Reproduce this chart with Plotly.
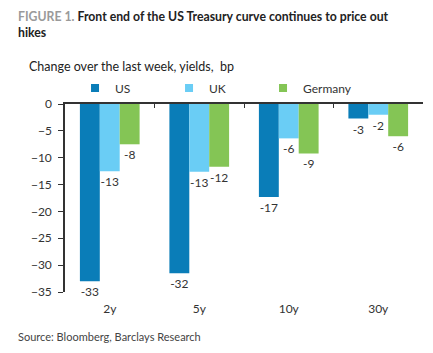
import plotly.graph_objects as go

categories = ["2y", "5y", "10y", "30y"]
us = [-33.0, -31.5, -17.3, -2.7]
uk = [-12.5, -12.6, -6.4, -2.0]
germany = [-7.5, -11.7, -9.2, -6.0]
us_labels = ["-33", "-32", "-17", "-3"]
uk_labels = ["-13", "-13", "-6", "-2"]
de_labels = ["-8", "-12", "-9", "-6"]
y_ticks = [0, -5, -10, -15, -20, -25, -30, -35]

FONT = "Lato"
TXT = "#333333"

series = [
    ("US", us, us_labels, "#0A7DB8"),
    ("UK", uk, uk_labels, "#6ACDF5"),
    ("Germany", germany, de_labels, "#84C555"),
]

fig = go.Figure()
for name, vals, labs, col in series:
    fig.add_trace(go.Bar(
        x=categories, y=vals, name=name, marker=dict(color=col, line=dict(width=0)),
        text=labs, textposition="outside", textfont=dict(family=FONT, size=12, color=TXT),
        constraintext="none", cliponaxis=False, hoverinfo="skip", showlegend=False,
        legendgroup=name,
    ))
for name, vals, labs, col in series:
    # legend entry with a small square swatch
    fig.add_trace(go.Scatter(
        x=[None], y=[None], name=name, mode="markers", legendgroup=name,
        marker=dict(symbol="square", size=8, color=col), hoverinfo="skip",
    ))

# invisible trace to carry the top (zero) axis with boundary ticks
fig.add_trace(go.Scatter(x=categories, y=[0] * 4, xaxis="x2", mode="none",
                         showlegend=False, hoverinfo="skip"))

fig.update_layout(
    width=433, height=353,
    margin=dict(l=65, r=10, t=104, b=61),
    paper_bgcolor="white", plot_bgcolor="white",
    barmode="group", bargap=0.333, bargroupgap=0,
    font=dict(family=FONT, size=12, color=TXT),
    showlegend=True,
    legend=dict(orientation="h", x=0.028, xanchor="left", y=1.085, yanchor="middle",
                entrywidth=49, entrywidthmode="pixels", itemwidth=30,
                font=dict(family=FONT, size=12, color=TXT), bgcolor="rgba(0,0,0,0)"),
    xaxis=dict(type="category", categoryarray=categories, range=[-0.5, 3.5],
               showline=False, ticks="", showgrid=False, zeroline=False,
               tickfont=dict(family=FONT, size=12, color=TXT), ticklabelstandoff=8),
    xaxis2=dict(type="category", categoryarray=categories, overlaying="x", side="top",
                range=[-0.5, 3.5], showline=True, linecolor="#333333", linewidth=1.5,
                ticks="inside", tickson="boundaries", ticklen=4, tickcolor="#333333",
                showticklabels=False, showgrid=False, zeroline=False),
    yaxis=dict(range=[-35, 0], tickvals=y_ticks, ticks="outside", ticklen=5,
               tickcolor="#333333", showline=True, linecolor="#333333", linewidth=1.5,
               showgrid=False, zeroline=False, tickfont=dict(family=FONT, size=12, color=TXT),
               ticklabelstandoff=4),
    annotations=[
        dict(text="<span style='color:#9a9a9a'>FIGURE 1.</span> Front end of the US Treasury curve continues to price out<br>hikes",
             xref="paper", yref="paper", x=(16 - 65) / 358, y=1 + (104 - 7) / 188,
             xanchor="left", yanchor="top", align="left", showarrow=False,
             font=dict(family=FONT, size=12.25, color="#222222", weight="bold")),
        dict(text="Change over the last week, yields,  bp", xref="paper", yref="paper",
             x=(27 - 65) / 358, y=1 + (104 - 67) / 188, xanchor="left", yanchor="middle",
             showarrow=False, font=dict(family=FONT, size=12.5, color="#222222")),
        dict(text="Source: Bloomberg, Barclays Research", xref="paper", yref="paper",
             x=(16 - 65) / 358, y=-(336 - 292) / 188, xanchor="left", yanchor="middle",
             showarrow=False, font=dict(family=FONT, size=11, color="#444444")),
    ],
)

fig.write_html("out.html")
